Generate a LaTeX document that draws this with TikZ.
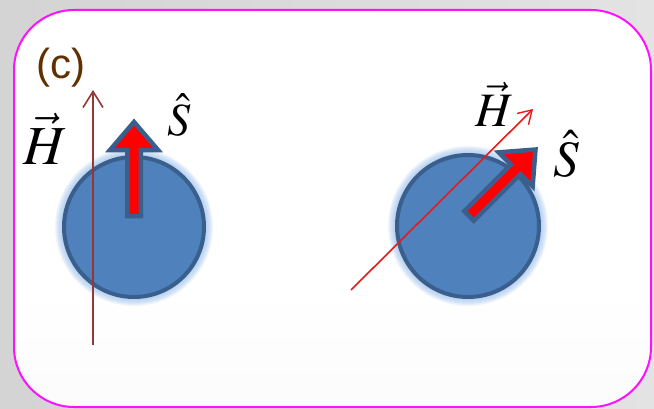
\documentclass[tikz,border=0pt]{standalone}
\usepackage{mathptmx}
\usepackage{fontspec}
\setmainfont{Liberation Serif}
\newfontfamily\labelfont{Liberation Sans}
\usetikzlibrary{arrows.meta}
\definecolor{ballfill}{HTML}{4F81BD}
\definecolor{balledge}{HTML}{3A5F8C}
\definecolor{glowc}{HTML}{9CC2EE}
\definecolor{hleft}{HTML}{953735}
\definecolor{hright}{HTML}{E21C1C}
\definecolor{brownc}{HTML}{603000}
\definecolor{framec}{HTML}{FF10FF}
\pgfdeclareverticalshading{panelshade}{100bp}{color(0bp)=(black!9); color(18bp)=(black!2); color(40bp)=(white); color(100bp)=(white)}
\tikzset{
  ball/.style={fill=ballfill, draw=balledge, line width=4pt},
  spinarrow/.style={fill=red, draw=balledge, line width=4.5pt, miter limit=4},
  lbl/.style={inner sep=0pt, outer sep=0pt, font=\fontsize{20}{20}\selectfont},
}
\newcommand{\glowball}[2]{%
  \foreach \i in {1,...,9} {\fill[glowc, opacity=0.14] (#1) circle ({#2+\i});}
  \draw[ball] (#1) circle (#2);
}
\newcommand{\spinshape}{(0,-6.75) -- (66,-6.75) -- (66,-24) -- (94,0) -- (66,24) -- (66,6.75) -- (0,6.75) -- cycle}
\begin{document}
\begin{tikzpicture}[x=1pt,y=1pt]
\useasboundingbox (0,0) rectangle (654,408);
\shade[left color=black!17, right color=black!11] (0,0) rectangle (654,408);
\shade[shading=panelshade, rounded corners=60pt] (14,1) rectangle (651,398);
\draw[framec, line width=2pt, rounded corners=60pt] (14,1) rectangle (651,398);

\node[inner sep=0pt, text=brownc, font=\labelfont\fontsize{42}{42}\selectfont] (c) at (61,340) {(c)};

% left ball
\coordinate (cL) at (134,181);
\glowball{cL}{70}
\begin{scope}[shift={(134,192)}, rotate=90]
  \draw[spinarrow] \spinshape;
\end{scope}
\coordinate (hLs) at (93,63);
\coordinate (hLe) at (93,318);
\draw[hleft, line width=2pt, -{Straight Barb[length=16pt,width=20pt,line width=1.6pt]}] (hLs) -- (hLe);
\node[lbl] (HL) at (45,269) {\scalebox{2.75}{$\vec{H}$}};
\node[lbl] (SL) at (179,293) {\scalebox{2.3}{$\hat{S}$}};

% right ball
\coordinate (cR) at (468,182);
\glowball{cR}{71}
\begin{scope}[shift={(469,192)}, rotate=45]
  \draw[spinarrow] \spinshape;
\end{scope}
\coordinate (hRs) at (351,118);
\coordinate (hRe) at (533,299);
\draw[hright, line width=1.6pt, -{Straight Barb[length=13pt,width=16pt,line width=1.4pt]}] (hRs) -- (hRe);
\node[lbl] (HR) at (495,304) {\scalebox{2.4}{$\vec{H}$}};
\node[lbl] (SR) at (566,254) {\scalebox{2.55}{$\hat{S}$}};
\end{tikzpicture}
\end{document}
